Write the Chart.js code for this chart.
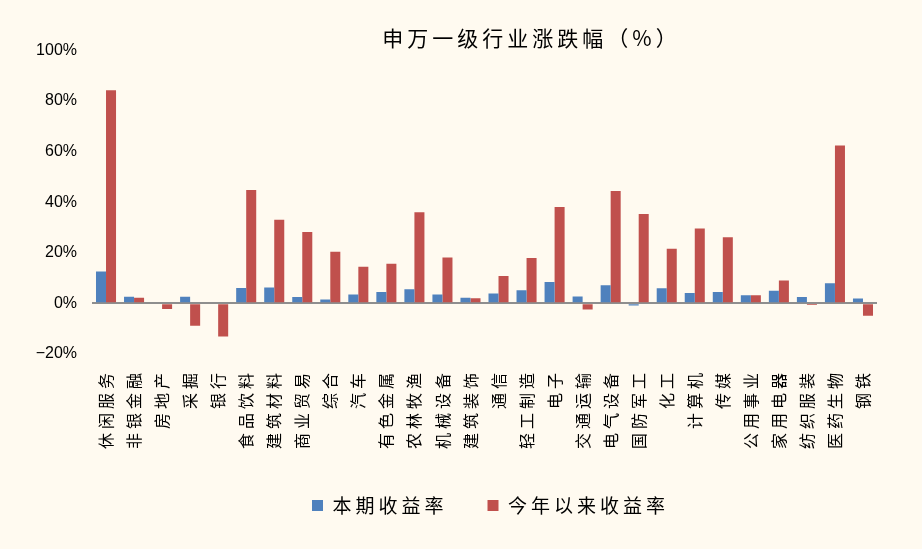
<!DOCTYPE html>
<html><head><meta charset="utf-8">
<script src="https://cdn.jsdelivr.net/npm/chart.js@4.4.1/dist/chart.umd.min.js"></script>
<style>html,body{margin:0;padding:0;background:#FFFAF0;} canvas{display:block;background:#FFFAF0;}</style>
</head><body>
<canvas id="c" width="922" height="549"></canvas>
<script>
const categories = ['休闲服务','非银金融','房地产','采掘','银行','食品饮料','建筑材料','商业贸易','综合','汽车','有色金属','农林牧渔','机械设备','建筑装饰','通信','轻工制造','电子','交通运输','电气设备','国防军工','化工','计算机','传媒','公用事业','家用电器','纺织服装','医药生物','钢铁'];
const periodReturn = [12.6, 2.6, 0, 2.6, 0, 6.1, 6.3, 2.5, 1.5, 3.5, 4.5, 5.6, 3.5, 2.2, 3.9, 5.2, 8.4, 2.7, 7.2, -0.8, 6.0, 4.1, 4.5, 3.2, 5.0, 2.5, 7.9, 1.9];
const ytdReturn = [84.2, 2.2, -2.2, -8.8, -13.1, 44.8, 33.0, 28.2, 20.4, 14.5, 15.6, 36.0, 18.1, 2.0, 10.8, 17.9, 38.1, -2.4, 44.4, 35.3, 21.6, 29.6, 26.1, 3.2, 9.0, -0.6, 62.4, -4.9];
const yTicks = [-20, 0, 20, 40, 60, 80, 100];
const seriesNames = ['本期收益率', '今年以来收益率'];
const titleText = '申万一级行业涨跌幅（%）';

const CJK = "'Noto Sans CJK SC', 'Noto Sans CJK TC', sans-serif";
const NUM = "'Liberation Sans Narrow', 'Liberation Sans', Arial, sans-serif";
const SPACING = '4px';

const spacingPlugin = {
  id: 'spacing',
  beforeUpdate(chart) { chart.ctx.letterSpacing = SPACING; },
  beforeDraw(chart) { chart.ctx.letterSpacing = SPACING; },
  afterLayout(chart) {
    const t = chart.titleBlock;
    if (t) { t.left += 93; t.right += 93; }
    const l = chart.legend;
    if (l) {
      l.left += 52; l.right += 52;
      const dy = 456 - l.top; l.top += dy; l.bottom += dy;
    }
  }
};

new Chart(document.getElementById('c'), {
  type: 'bar',
  data: {
    labels: categories,
    datasets: [
      { label: seriesNames[0], data: periodReturn, backgroundColor: '#4F81BD', borderWidth: 0, categoryPercentage: 0.715, barPercentage: 1.0 },
      { label: seriesNames[1], data: ytdReturn, backgroundColor: '#C0504D', borderWidth: 0, categoryPercentage: 0.715, barPercentage: 1.0 }
    ]
  },
  options: {
    responsive: false,
    animation: false,
    devicePixelRatio: 1,
    layout: { padding: { left: 0, right: 45, top: 0, bottom: 16 } },
    plugins: {
      title: {
        display: true, text: titleText, color: '#000',
        font: { family: CJK, size: 21, weight: 'normal' },
        padding: { top: 25, bottom: 0 }
      },
      legend: {
        position: 'bottom',
        labels: { boxWidth: 11, boxHeight: 11, padding: 40, color: '#000', font: { family: CJK, size: 19 } }
      },
      tooltip: { enabled: false }
    },
    scales: {
      x: {
        grid: { display: false, drawTicks: false },
        border: { display: false },
        ticks: { autoSkip: false, minRotation: 90, maxRotation: 90, padding: 15, color: '#000', font: { family: CJK, size: 16 } }
      },
      y: {
        min: -20, max: 100,
        afterBuildTicks(scale) { scale.ticks = yTicks.map(v => ({ value: v })); },
        afterFit(scale) {
          scale.width = 92;
          if (!scale._lsPatched) {
            const orig = scale.drawLabels;
            scale.drawLabels = function (a) {
              const c = this.ctx; const prev = c.letterSpacing;
              c.letterSpacing = '0px'; orig.call(this, a); c.letterSpacing = prev;
            };
            scale._lsPatched = true;
          }
        },
        border: { display: false },
        grid: {
          drawTicks: false,
          color: ctx => (ctx.tick && ctx.tick.value === 0) ? '#8e8e8e' : 'rgba(0,0,0,0)',
          lineWidth: ctx => (ctx.tick && ctx.tick.value === 0) ? 2 : 0
        },
        ticks: {
          padding: 15, color: '#000', font: { family: NUM, size: 16 },
          callback: v => (v < 0 ? '−' + Math.abs(v) : String(v)) + '%'
        }
      }
    }
  },
  plugins: [spacingPlugin]
});
</script>
</body></html>
